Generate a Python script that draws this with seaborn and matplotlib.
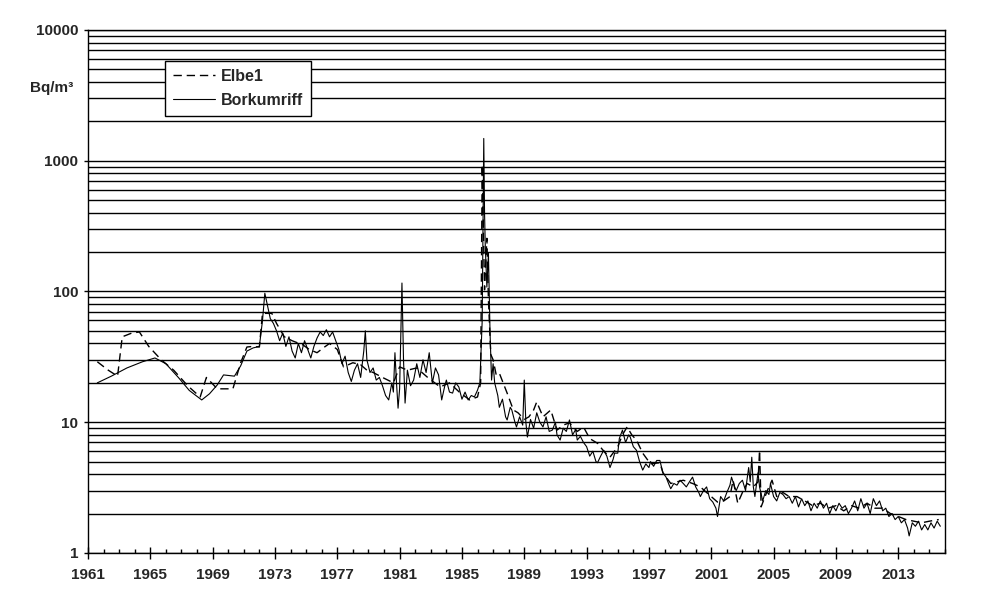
import matplotlib
matplotlib.use("Agg")
import matplotlib.pyplot as plt
import matplotlib.ticker as mticker
import pandas as pd
import seaborn as sns

# Borkumriff (solid line)
bork_year = [
    1961.6, 1962.5, 1963.5, 1964.5, 1965.3, 1966.0, 1966.8, 1967.5, 1968.3, 1968.8,
    1969.3, 1969.7, 1970.4, 1970.8, 1971.2, 1971.6, 1972.0, 1972.2, 1972.35, 1972.5,
    1972.7, 1972.9, 1973.1, 1973.3, 1973.5, 1973.7, 1973.9, 1974.1, 1974.3, 1974.5,
    1974.7, 1974.9, 1975.1, 1975.3, 1975.5, 1975.7, 1975.9, 1976.1, 1976.3, 1976.5,
    1976.7, 1976.9, 1977.1, 1977.3, 1977.5, 1977.7, 1977.9, 1978.1, 1978.3, 1978.5,
    1978.7, 1978.8, 1978.9, 1979.1, 1979.3, 1979.5, 1979.7, 1979.9, 1980.1, 1980.3,
    1980.5, 1980.6, 1980.7, 1980.8, 1980.9, 1981.0, 1981.15, 1981.25, 1981.35, 1981.5,
    1981.7, 1981.9, 1982.1, 1982.3, 1982.5, 1982.7, 1982.9, 1983.1, 1983.3, 1983.5,
    1983.7, 1983.9, 1984.0, 1984.2, 1984.4, 1984.6, 1984.8, 1985.0, 1985.2, 1985.4,
    1985.6, 1985.8, 1986.0, 1986.15, 1986.3, 1986.4, 1986.45, 1986.5, 1986.6, 1986.7,
    1986.8, 1986.9, 1987.0, 1987.1, 1987.3, 1987.4, 1987.6, 1987.8, 1987.9, 1988.1,
    1988.2, 1988.4, 1988.5, 1988.7, 1988.9, 1989.0, 1989.1, 1989.2, 1989.4, 1989.6,
    1989.8, 1990.0, 1990.2, 1990.4, 1990.6, 1990.8, 1991.0, 1991.1, 1991.3, 1991.5,
    1991.7, 1991.9, 1992.1, 1992.3, 1992.4, 1992.6, 1992.8, 1993.0, 1993.2, 1993.4,
    1993.6, 1993.7, 1993.9, 1994.1, 1994.3, 1994.5, 1994.7, 1994.8, 1995.0, 1995.1,
    1995.3, 1995.5, 1995.7, 1995.8, 1996.0, 1996.2, 1996.4, 1996.6, 1996.8, 1997.0,
    1997.1, 1997.3, 1997.5, 1997.7, 1997.9, 1998.1, 1998.3, 1998.4, 1998.6, 1998.8,
    1999.0, 1999.2, 1999.4, 1999.6, 1999.8, 2000.0, 2000.2, 2000.3, 2000.5, 2000.7,
    2000.9, 2001.1, 2001.3, 2001.4, 2001.6, 2001.8, 2002.0, 2002.2, 2002.3, 2002.5,
    2002.6, 2002.8, 2003.0, 2003.2, 2003.4, 2003.5, 2003.6, 2003.7, 2003.8, 2004.0,
    2004.1, 2004.3, 2004.5, 2004.7, 2004.8, 2005.0, 2005.2, 2005.4, 2005.6, 2005.8,
    2006.0, 2006.2, 2006.4, 2006.6, 2006.8, 2007.0, 2007.2, 2007.4, 2007.6, 2007.8,
    2008.0, 2008.2, 2008.4, 2008.6, 2008.8, 2009.0, 2009.2, 2009.4, 2009.6, 2009.8,
    2010.0, 2010.2, 2010.4, 2010.6, 2010.8, 2011.0, 2011.2, 2011.4, 2011.6, 2011.8,
    2012.0, 2012.2, 2012.4, 2012.6, 2012.8, 2013.0, 2013.2, 2013.4, 2013.6, 2013.7,
    2013.9, 2014.1, 2014.3, 2014.5, 2014.7, 2014.9, 2015.1, 2015.3, 2015.5, 2015.7,
]
bork_value = [
    20, 22.5, 26, 29, 31, 28, 22, 17.5, 14.8, 16.5,
    19.3, 23, 22.5, 27, 35, 37, 38, 60, 97, 80,
    62, 57, 50, 42, 48, 38, 45, 35, 31, 40,
    34, 42, 36, 31, 38, 44, 49, 46, 51, 45,
    49, 42, 36, 28, 32, 24, 20.5, 25, 28, 22,
    35, 50, 30, 24, 26, 21, 22, 19, 16, 14.8,
    20, 17, 34, 20, 12.8, 18, 116, 30, 14, 25,
    19, 21, 28, 22, 30, 24, 34, 20, 26, 23,
    14.8, 19, 21, 17, 16.7, 20, 18.6, 15, 17, 14.8,
    16, 15.6, 17.6, 20, 60, 1480, 400, 218, 108, 196,
    50, 21, 28, 20, 16, 13, 15, 11, 10.4, 13,
    12.4, 10, 9.2, 11, 9.5, 21, 10, 7.7, 10.5, 9,
    11.8, 10, 9.2, 11, 8.5, 8.7, 10, 8, 7.3, 9,
    8.5, 10.4, 8, 8.8, 7.3, 7.8, 7, 6.5, 5.5, 6,
    5, 4.9, 5.5, 6.1, 5.5, 4.5, 5.2, 5.8, 5.8, 7.5,
    8.7, 7, 8, 7.7, 6.5, 6.1, 5, 4.3, 4.8, 4.5,
    5.0, 4.6, 5.1, 5.1, 4.1, 3.8, 3.3, 3.1, 3.4, 3.3,
    3.6, 3.4, 3.2, 3.5, 3.8, 3.2, 2.9, 2.7, 3.0, 3.2,
    2.6, 2.45, 2.2, 1.9, 2.7, 2.5, 2.9, 3.3, 3.8, 3.2,
    3.0, 3.4, 3.6, 3.0, 4.5, 3.5, 5.4, 3.2, 2.7, 4.1,
    3.2, 2.5, 3.0, 2.8, 3.4, 2.7, 2.5, 2.9, 2.8, 2.6,
    2.7, 2.4, 2.7, 2.25, 2.6, 2.3, 2.5, 2.1, 2.4, 2.2,
    2.5, 2.2, 2.4, 2.0, 2.3, 2.1, 2.4, 2.2, 2.3, 2.0,
    2.2, 2.5, 2.1, 2.6, 2.2, 2.4, 2.0, 2.6, 2.3, 2.5,
    2.1, 2.2, 1.9, 2.0, 1.8, 1.9, 1.7, 1.8, 1.55, 1.35,
    1.7, 1.6, 1.75, 1.5, 1.65, 1.5, 1.7, 1.55, 1.75, 1.6,
]

# Elbe1 (dashed line)
elbe_year = [
    1961.6, 1962.3, 1962.9, 1963.2, 1963.8, 1964.3, 1964.9, 1965.7, 1966.5, 1967.4,
    1968.2, 1968.6, 1969.3, 1969.8, 1970.3, 1970.8, 1971.2, 1971.6, 1972.0, 1972.2,
    1972.8, 1973.1, 1973.6, 1974.1, 1974.8, 1975.2, 1975.7, 1976.1, 1976.5, 1977.0,
    1977.4, 1978.0, 1978.5, 1978.9, 1979.3, 1979.9, 1980.6, 1981.0, 1981.5, 1982.1,
    1982.8, 1983.6, 1984.2, 1984.9, 1985.5, 1986.0, 1986.2, 1986.3, 1986.45, 1986.6,
    1986.7, 1986.85, 1987.0, 1987.2, 1987.4, 1987.9, 1988.3, 1988.6, 1989.0, 1989.3,
    1989.6, 1989.8, 1990.2, 1990.7, 1991.1, 1991.5, 1991.9, 1992.4, 1992.8, 1993.2,
    1993.7, 1994.1, 1994.5, 1995.0, 1995.3, 1995.6, 1995.9, 1996.2, 1996.6, 1997.1,
    1997.7, 1997.9, 1998.4, 1998.8, 1999.2, 1999.8, 2000.3, 2000.7, 2001.4, 2001.8,
    2002.2, 2002.4, 2002.7, 2003.0, 2003.3, 2003.7, 2004.0, 2004.1, 2004.2, 2004.4,
    2004.6, 2004.9, 2005.2, 2005.6, 2006.0, 2006.5, 2007.0, 2007.5, 2008.0, 2008.5,
    2009.0, 2009.5, 2010.0, 2010.5, 2011.0, 2011.5, 2012.0, 2012.5, 2013.0, 2013.5,
    2014.0, 2014.5, 2015.0, 2015.6,
]
elbe_value = [
    29, 25, 22.5, 45, 48, 49, 38, 30, 25, 19,
    15.6, 22, 18, 18, 18, 28.5, 37.6, 38, 37.6, 68,
    68, 57, 45, 42, 39, 36, 34, 37, 40, 36,
    26.5, 28.5, 27.5, 25, 24, 22, 20, 26.5, 25, 26,
    22, 18.6, 20, 16.7, 14.8, 15.6, 20, 930, 103, 255,
    86, 33, 30, 23, 23.7, 16.7, 12.4, 11.8, 10.5, 11,
    12.4, 14.3, 11, 12.4, 8.7, 9.5, 9.9, 8.5, 9.2, 7.5,
    6.9, 6, 5.4, 6.5, 8, 9.2, 8, 7.3, 5.8, 4.8,
    4.9, 4.1, 3.4, 3.5, 3.6, 3.4, 3.2, 2.9, 2.45, 2.5,
    2.7, 3.6, 2.4, 2.9, 3.4, 3.2, 3.5, 6.1, 2.25, 2.6,
    3.0, 3.6, 2.7, 2.9, 2.7, 2.7, 2.5, 2.3, 2.4, 2.2,
    2.3, 2.1, 2.3, 2.2, 2.4, 2.2, 2.2, 2.0, 1.9, 1.8,
    1.75, 1.7, 1.75, 1.8,
]

year_ticks = list(range(1961, 2014, 4))

sns.set_style("ticks")
plt.rcParams["font.family"] = ["Liberation Sans", "DejaVu Sans"]
plt.rcParams["font.weight"] = "bold"

elbe = pd.DataFrame({"year": elbe_year, "value": elbe_value})
bork = pd.DataFrame({"year": bork_year, "value": bork_value})

fig = plt.figure(figsize=(9.94, 6.03), dpi=100)
ax = fig.add_axes([0.0885, 0.083, 0.8622, 0.8673])

sns.lineplot(data=elbe, x="year", y="value", ax=ax, color="black", lw=1.0,
             linestyle=(0, (6, 3.5)), estimator=None, label="Elbe1")
sns.lineplot(data=bork, x="year", y="value", ax=ax, color="black", lw=0.8,
             estimator=None, label="Borkumriff")

ax.set_yscale("log")
ax.set_ylim(1, 10000)
ax.set_xlim(1961, 2016)

ax.yaxis.set_major_locator(mticker.LogLocator(base=10, numticks=10))
ax.yaxis.set_minor_locator(mticker.LogLocator(base=10, subs=range(2, 10), numticks=20))
ax.yaxis.set_major_formatter(mticker.FuncFormatter(lambda v, p: f"{v:.0f}"))
ax.yaxis.set_minor_formatter(mticker.NullFormatter())
ax.yaxis.grid(True, which="both", color="black", lw=1.0)
ax.set_axisbelow(True)

ax.xaxis.set_major_locator(mticker.FixedLocator(year_ticks))
ax.xaxis.set_minor_locator(mticker.MultipleLocator(1))
ax.xaxis.set_major_formatter(mticker.FormatStrFormatter("%d"))

ax.tick_params(axis="x", which="major", direction="inout", length=8, width=1,
               labelsize=11, pad=7, color="black")
ax.tick_params(axis="x", which="minor", direction="in", length=3, width=1, color="black")
ax.tick_params(axis="y", which="major", direction="out", length=3, width=1,
               labelsize=11, pad=4, color="black")
ax.tick_params(axis="y", which="minor", length=0)

for s in ax.spines.values():
    s.set_color("black")
    s.set_linewidth(1)

ax.set_xlabel("")
ax.set_ylabel("")

leg = ax.legend(loc="upper left", bbox_to_anchor=(0.09, 0.941), frameon=True,
                fancybox=False, framealpha=1, edgecolor="black", fontsize=11.5,
                handlelength=2.6, handletextpad=0.4, borderpad=0.5,
                labelspacing=0.55, borderaxespad=0)
leg.get_frame().set_linewidth(1)

fig.text(30 / 994, 1 - 88 / 603, "Bq/m³", fontsize=11, fontweight="bold",
         va="center", ha="left")

fig.savefig("out.png", dpi=100)
